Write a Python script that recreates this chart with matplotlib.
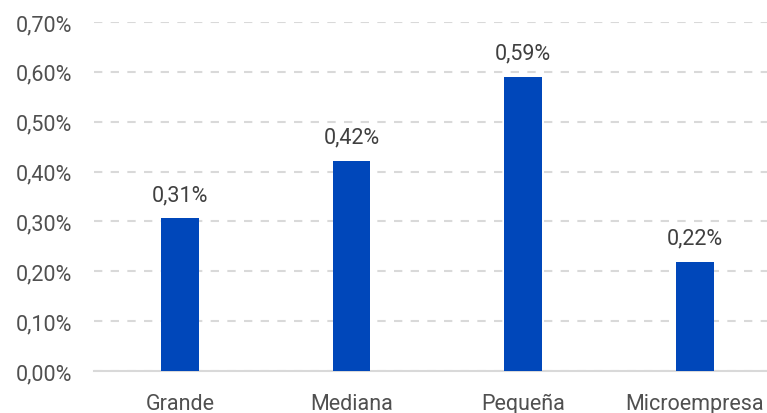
import matplotlib.pyplot as plt
import numpy as np

categories = ["Grande", "Mediana", "Pequeña", "Microempresa"]
values = [0.306, 0.421, 0.59, 0.218]
yticks = [0.0, 0.1, 0.2, 0.3, 0.4, 0.5, 0.6, 0.7]

plt.rcParams['font.family'] = ['Roboto', 'DejaVu Sans']

fig = plt.figure(figsize=(7.67, 4.14), dpi=100)
ax = fig.add_axes([94 / 767, 42 / 414, 1 - 94 / 767, 349 / 414])

x = np.arange(len(categories))
ax.bar(x, values, width=0.22, color="#0047BA", zorder=3)

for xi, v in zip(x, values):
    ax.text(xi, v + 0.027, f"{v:.2f}%".replace(".", ","), ha="center", va="bottom",
            fontsize=15.5, color="#404040")

ax.set_ylim(0, 0.7)
ax.set_xlim(-0.5, 3.42)
ax.set_yticks(yticks)
ax.set_yticklabels([f"{t:.2f}%".replace(".", ",") for t in yticks], fontsize=15.5, color="#505050")
ax.set_xticks(x)
ax.set_xticklabels(categories, fontsize=15.5, color="#505050")
ax.tick_params(axis="both", length=0)
ax.tick_params(axis="y", pad=16)
ax.tick_params(axis="x", pad=16)

ax.yaxis.grid(True, linestyle=(0, (4, 4)), color="#d9d9d9", linewidth=1.5, zorder=0)
for s in ["top", "right", "left"]:
    ax.spines[s].set_visible(False)
ax.spines["bottom"].set_color("#d9d9d9")
ax.spines["bottom"].set_linewidth(1.5)

fig.savefig("out.png", dpi=100)
